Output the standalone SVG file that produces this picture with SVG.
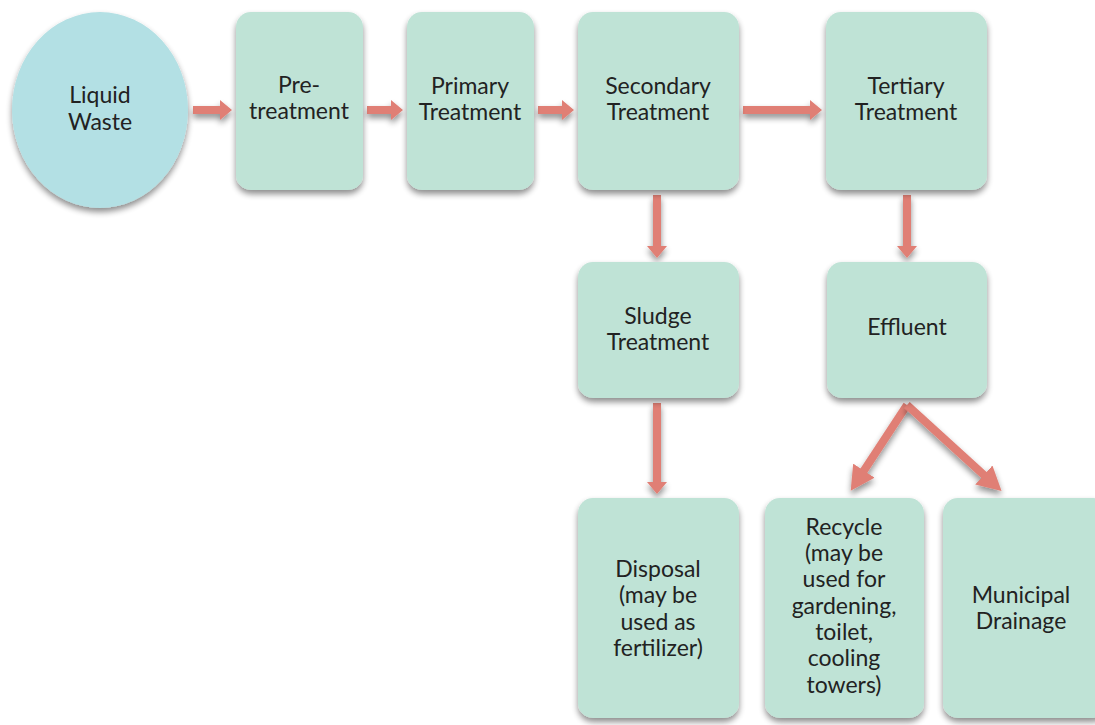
<svg xmlns="http://www.w3.org/2000/svg" width="1095" height="725" viewBox="0 0 1095 725">
<defs>
<filter id="sh" filterUnits="userSpaceOnUse" x="0" y="0" width="1095" height="725">
<feGaussianBlur in="SourceAlpha" stdDeviation="3"/>
<feOffset dx="0" dy="4" result="b"/>
<feComponentTransfer><feFuncA type="linear" slope="0.45"/></feComponentTransfer>
<feMerge><feMergeNode/><feMergeNode in="SourceGraphic"/></feMerge>
</filter>
<marker id="ah" markerWidth="3" markerHeight="3.2" refX="0.2" refY="1.6" orient="auto" markerUnits="strokeWidth">
<path d="M0,0 L3,1.6 L0,3.2 Z" fill="#e07f75"/>
</marker>
<style>
.box{fill:#bfe3d6;filter:url(#sh)}
.circ{fill:#b3e0e4;filter:url(#sh)}
.t{font-family:Lato,"Open Sans",sans-serif;font-size:23px;fill:#222;text-anchor:middle}
.ap{fill:#e07f75;filter:url(#sh)}
.a{stroke:#e07f75;stroke-width:8;fill:none;marker-end:url(#ah);filter:url(#sh)}
</style>
</defs>
<rect width="1095" height="725" fill="#fff"/>
<g id="connectors">
<path class="ap" d="M193,106 H220 V100 L232,110 L220,120 V114 H193 Z"/>
<path class="ap" d="M367,106 H391 V100 L403,110 L391,120 V114 H367 Z"/>
<path class="ap" d="M538,106 H562 V100 L574,110 L562,120 V114 H538 Z"/>
<path class="ap" d="M743,106 H810 V100 L822,110 L810,120 V114 H743 Z"/>
<path class="ap" d="M653,195 V246 H647 L657,258 L667,246 H661 V195 Z"/>
<path class="ap" d="M903,195 V246 H897 L907,258 L917,246 H911 V195 Z"/>
<path class="ap" d="M653,403 V482 H647 L657,494 L667,482 H661 V403 Z"/>
<line class="a" x1="907" y1="405" x2="863" y2="472"/>
<line class="a" x1="907" y1="405" x2="985" y2="476"/>
</g>
<g id="liquid-waste"><ellipse class="circ" cx="100" cy="110" rx="88" ry="98"/><text class="t" x="100" y="103">Liquid</text><text class="t" x="100" y="130">Waste</text></g>
<g id="pre-treatment"><rect class="box" x="236" y="12" width="127" height="178" rx="15"/><text class="t" x="299" y="93">Pre-</text><text class="t" x="299" y="119">treatment</text></g>
<g id="primary"><rect class="box" x="407" y="12" width="127" height="178" rx="15"/><text class="t" x="470" y="94">Primary</text><text class="t" x="470" y="120">Treatment</text></g>
<g id="secondary"><rect class="box" x="578" y="12" width="161" height="178" rx="15"/><text class="t" x="658" y="94">Secondary</text><text class="t" x="658" y="120">Treatment</text></g>
<g id="tertiary"><rect class="box" x="826" y="12" width="161" height="178" rx="15"/><text class="t" x="906" y="94">Tertiary</text><text class="t" x="906" y="120">Treatment</text></g>
<g id="sludge"><rect class="box" x="578" y="262" width="161" height="136" rx="15"/><text class="t" x="658" y="324">Sludge</text><text class="t" x="658" y="350">Treatment</text></g>
<g id="effluent"><rect class="box" x="827" y="262" width="160" height="136" rx="15"/><text class="t" x="907" y="335">Effluent</text></g>
<g id="disposal"><rect class="box" x="578" y="498" width="161" height="220" rx="15"/><text class="t" x="658" y="577">Disposal</text><text class="t" x="658" y="603">(may be</text><text class="t" x="658" y="630">used as</text><text class="t" x="658" y="656">fertilizer)</text></g>
<g id="recycle"><rect class="box" x="765" y="498" width="159" height="220" rx="15"/><text class="t" x="844" y="535">Recycle</text><text class="t" x="844" y="561">(may be</text><text class="t" x="844" y="587">used for</text><text class="t" x="844" y="614">gardening,</text><text class="t" x="844" y="640">toilet,</text><text class="t" x="844" y="666">cooling</text><text class="t" x="844" y="693">towers)</text></g>
<g id="municipal"><rect class="box" x="943" y="498" width="165" height="220" rx="15"/><text class="t" x="1021" y="603">Municipal</text><text class="t" x="1021" y="629">Drainage</text></g>
</svg>
